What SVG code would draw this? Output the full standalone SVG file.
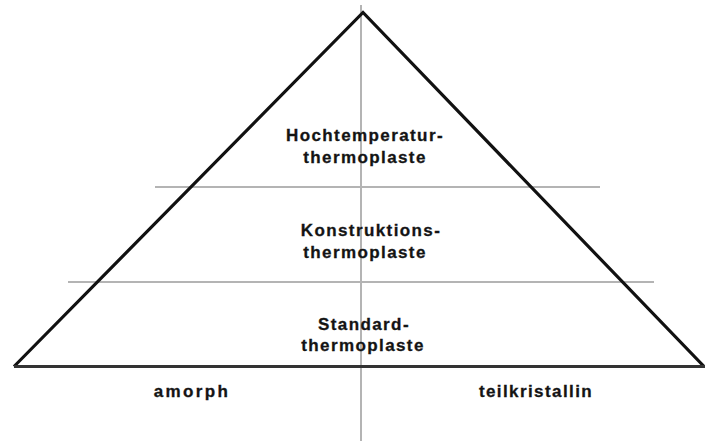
<svg xmlns="http://www.w3.org/2000/svg" width="705" height="447" viewBox="0 0 705 447">
<style>
.lbl{font-family:"Liberation Sans",Arial,sans-serif;font-weight:bold;font-size:17px;letter-spacing:1.4px;fill:#141414;stroke:#141414;stroke-width:0.3;text-anchor:middle}
.grid{stroke:#b4b4b4;stroke-width:2;fill:none}
.edge{stroke:#111;stroke-width:3.2;fill:none;stroke-linejoin:miter}
</style>
<rect width="705" height="447" fill="#fff"/>
<g id="connectors">
<line class="grid" x1="361" y1="5" x2="361" y2="441"/>
<line class="grid" x1="155" y1="187" x2="600" y2="187"/>
<line class="grid" x1="68" y1="282" x2="654" y2="282"/>
<polyline class="edge" points="14,366.5 363,12.5 704,366.5"/>
<line x1="14" y1="366.5" x2="705" y2="366.5" stroke="#333" stroke-width="3"/>
</g>
<g id="hochtemperatur">
<text class="lbl" x="365" y="141">Hochtemperatur-</text>
<text class="lbl" x="365" y="163">thermoplaste</text>
</g>
<g id="konstruktions">
<text class="lbl" x="371" y="236">Konstruktions-</text>
<text class="lbl" x="365" y="258">thermoplaste</text>
</g>
<g id="standard">
<text class="lbl" x="364" y="330">Standard-</text>
<text class="lbl" x="363" y="351">thermoplaste</text>
</g>
<g id="amorph">
<text class="lbl" x="192" y="397" style="letter-spacing:2.4px">amorph</text>
</g>
<g id="teilkristallin">
<text class="lbl" x="536" y="397">teilkristallin</text>
</g>
</svg>
